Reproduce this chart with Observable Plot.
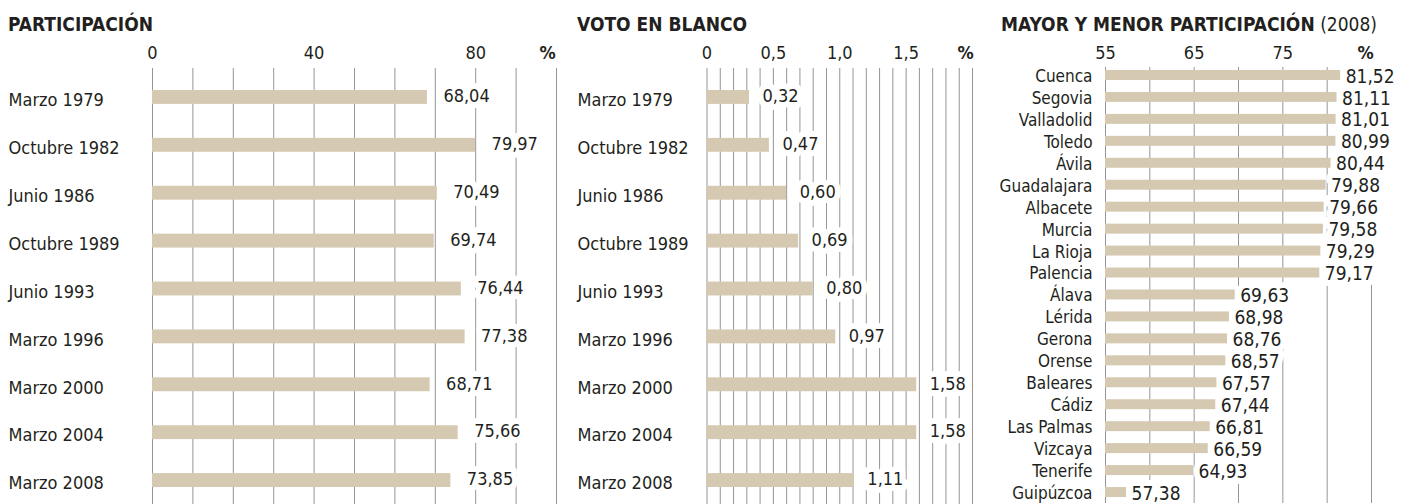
<!DOCTYPE html>
<html><head><meta charset="utf-8">
<script src="https://cdn.jsdelivr.net/npm/d3@7"></script>
<script src="https://cdn.jsdelivr.net/npm/@observablehq/plot@0.6"></script>
<style>
body{margin:0;background:#fff;}
#wrap{position:relative;width:1401px;height:504px;overflow:hidden;font-family:"Liberation Sans Narrow","DejaVu Sans Condensed",sans-serif;color:#231f20;}
.title{position:absolute;top:13px;font-weight:bold;font-size:19px;line-height:22px;white-space:nowrap;}
.title span{font-weight:normal;}
.panel{position:absolute;top:0;}
</style></head><body><div id="wrap"></div>
<script>
// ---- data ----
const elecciones = ["Marzo 1979","Octubre 1982","Junio 1986","Octubre 1989","Junio 1993","Marzo 1996","Marzo 2000","Marzo 2004","Marzo 2008"];
const participacion = [68.04,79.97,70.49,69.74,76.44,77.38,68.71,75.66,73.85];
const votoBlanco = [0.32,0.47,0.60,0.69,0.80,0.97,1.58,1.58,1.11];
const provincias = ["Cuenca","Segovia","Valladolid","Toledo","Ávila","Guadalajara","Albacete","Murcia","La Rioja","Palencia","Álava","Lérida","Gerona","Orense","Baleares","Cádiz","Las Palmas","Vizcaya","Tenerife","Guipúzcoa"];
const participacion2008 = [81.52,81.11,81.01,80.99,80.44,79.88,79.66,79.58,79.29,79.17,69.63,68.98,68.76,68.57,67.57,67.44,66.81,66.59,64.93,57.38];
const ticks1 = [0,40,80], tickLabels1 = ["0","40","80"];
const ticks2 = [0,0.5,1,1.5], tickLabels2 = ["0","0,5","1,0","1,5"];
const ticks3 = [55,65,75], tickLabels3 = ["55","65","75"];
const titles = ["PARTICIPACIÓN","VOTO EN BLANCO","MAYOR Y MENOR PARTICIPACIÓN"];
const subtitle3 = "(2008)";

const BAR = "#d5c9b1", INK = "#231f20", GRID = "#959595";
const FONT = "'Liberation Sans Narrow','DejaVu Sans Condensed',sans-serif";
const fmt = v => v.toFixed(2).replace(".", ",");
const wrap = document.getElementById("wrap");

function panel(o) {
  const data = o.cats.map((c, i) => ({c, v: o.values[i]}));
  const lab = new Map(o.ticks.map((t, i) => [t, o.tickLabels[i]]));
  const svg = Plot.plot({
    width: o.width, height: o.height,
    marginLeft: o.ml, marginRight: o.mr, marginTop: o.mt, marginBottom: o.mb,
    style: {fontFamily: FONT, fontSize: o.fs + "px", color: INK, background: "transparent", overflow: "visible"},
    x: {domain: o.domain, axis: null},
    y: {domain: o.cats, padding: 0, round: false, axis: null},
    marks: [
      Plot.ruleX(o.grid, {stroke: GRID, strokeWidth: 1, insetTop: o.gridInset}),
      Plot.text(data, {x: "v", y: "c", text: d => fmt(d.v), dx: o.dx, dy: o.vdy, textAnchor: "start", fill: "white", stroke: "white", strokeWidth: 12, strokeLinejoin: "round", fontSize: o.vfs}),
      Plot.barX(data, {x1: () => o.domain[0], x2: "v", y: "c", fill: BAR, insetTop: o.inset, insetBottom: o.inset}),
      Plot.text(data, {x: "v", y: "c", text: d => fmt(d.v), dx: o.dx, dy: o.vdy, textAnchor: "start", fill: INK, fontSize: o.vfs}),
      Plot.axisX({anchor: "top", label: null, ticks: o.ticks, tickSize: 0, tickPadding: o.tp, tickFormat: d => lab.get(d), fill: INK, fontSize: o.tfs}),
      Plot.text(["%"], {frameAnchor: "top-right", dy: -o.tp, lineAnchor: "bottom", textAnchor: "middle", dx: o.pdx, fontWeight: "bold", fill: INK, fontSize: o.tfs}),
      Plot.axisY({anchor: "left", label: null, tickSize: 0, tickPadding: o.yp, textAnchor: o.yAnchor, dy: o.ydy, fill: INK, fontSize: o.fs})
    ]
  });
  svg.classList.add("panel");
  svg.style.left = o.left + "px";
  wrap.appendChild(svg);
}

panel({cats: elecciones, values: participacion, domain: [0, 100], grid: d3.range(0, 101, 10),
  ticks: ticks1, tickLabels: tickLabels1, left: 0, width: 575, height: 504, ml: 152, mr: 19, mt: 73, mb: 0,
  inset: 17, gridInset: -5, dx: 16, vdy: -1, tp: 15, pdx: -9, yp: 144, yAnchor: "start", ydy: 3, fs: 18, vfs: 18, tfs: 18});

panel({cats: elecciones, values: votoBlanco, domain: [0, 2], grid: d3.range(0, 21).map(i => i / 10),
  ticks: ticks2, tickLabels: tickLabels2, left: 570, width: 420, height: 504, ml: 136.5, mr: 18, mt: 73, mb: 0,
  inset: 17, gridInset: -5, dx: 13, vdy: -1, tp: 15, pdx: -7, yp: 129.5, yAnchor: "start", ydy: 3, fs: 18, vfs: 18, tfs: 18});

panel({cats: provincias, values: participacion2008, domain: [55, 85], grid: d3.range(55, 86, 5),
  ticks: ticks3, tickLabels: tickLabels3, left: 995, width: 406, height: 504, ml: 110, mr: 30, mt: 64, mb: 1,
  inset: 6, gridInset: 3, dx: 5, vdy: 1, tp: 6, pdx: -6, yp: 13, yAnchor: "end", ydy: 1, fs: 17, vfs: 19, tfs: 18});

const tpos = [8, 577, 1001];
titles.forEach((t, i) => {
  const d = document.createElement("div");
  d.className = "title";
  d.style.left = tpos[i] + "px";
  d.textContent = t;
  if (i === 2) { const s = document.createElement("span"); s.textContent = " " + subtitle3; d.appendChild(s); }
  wrap.appendChild(d);
});
</script></body></html>
